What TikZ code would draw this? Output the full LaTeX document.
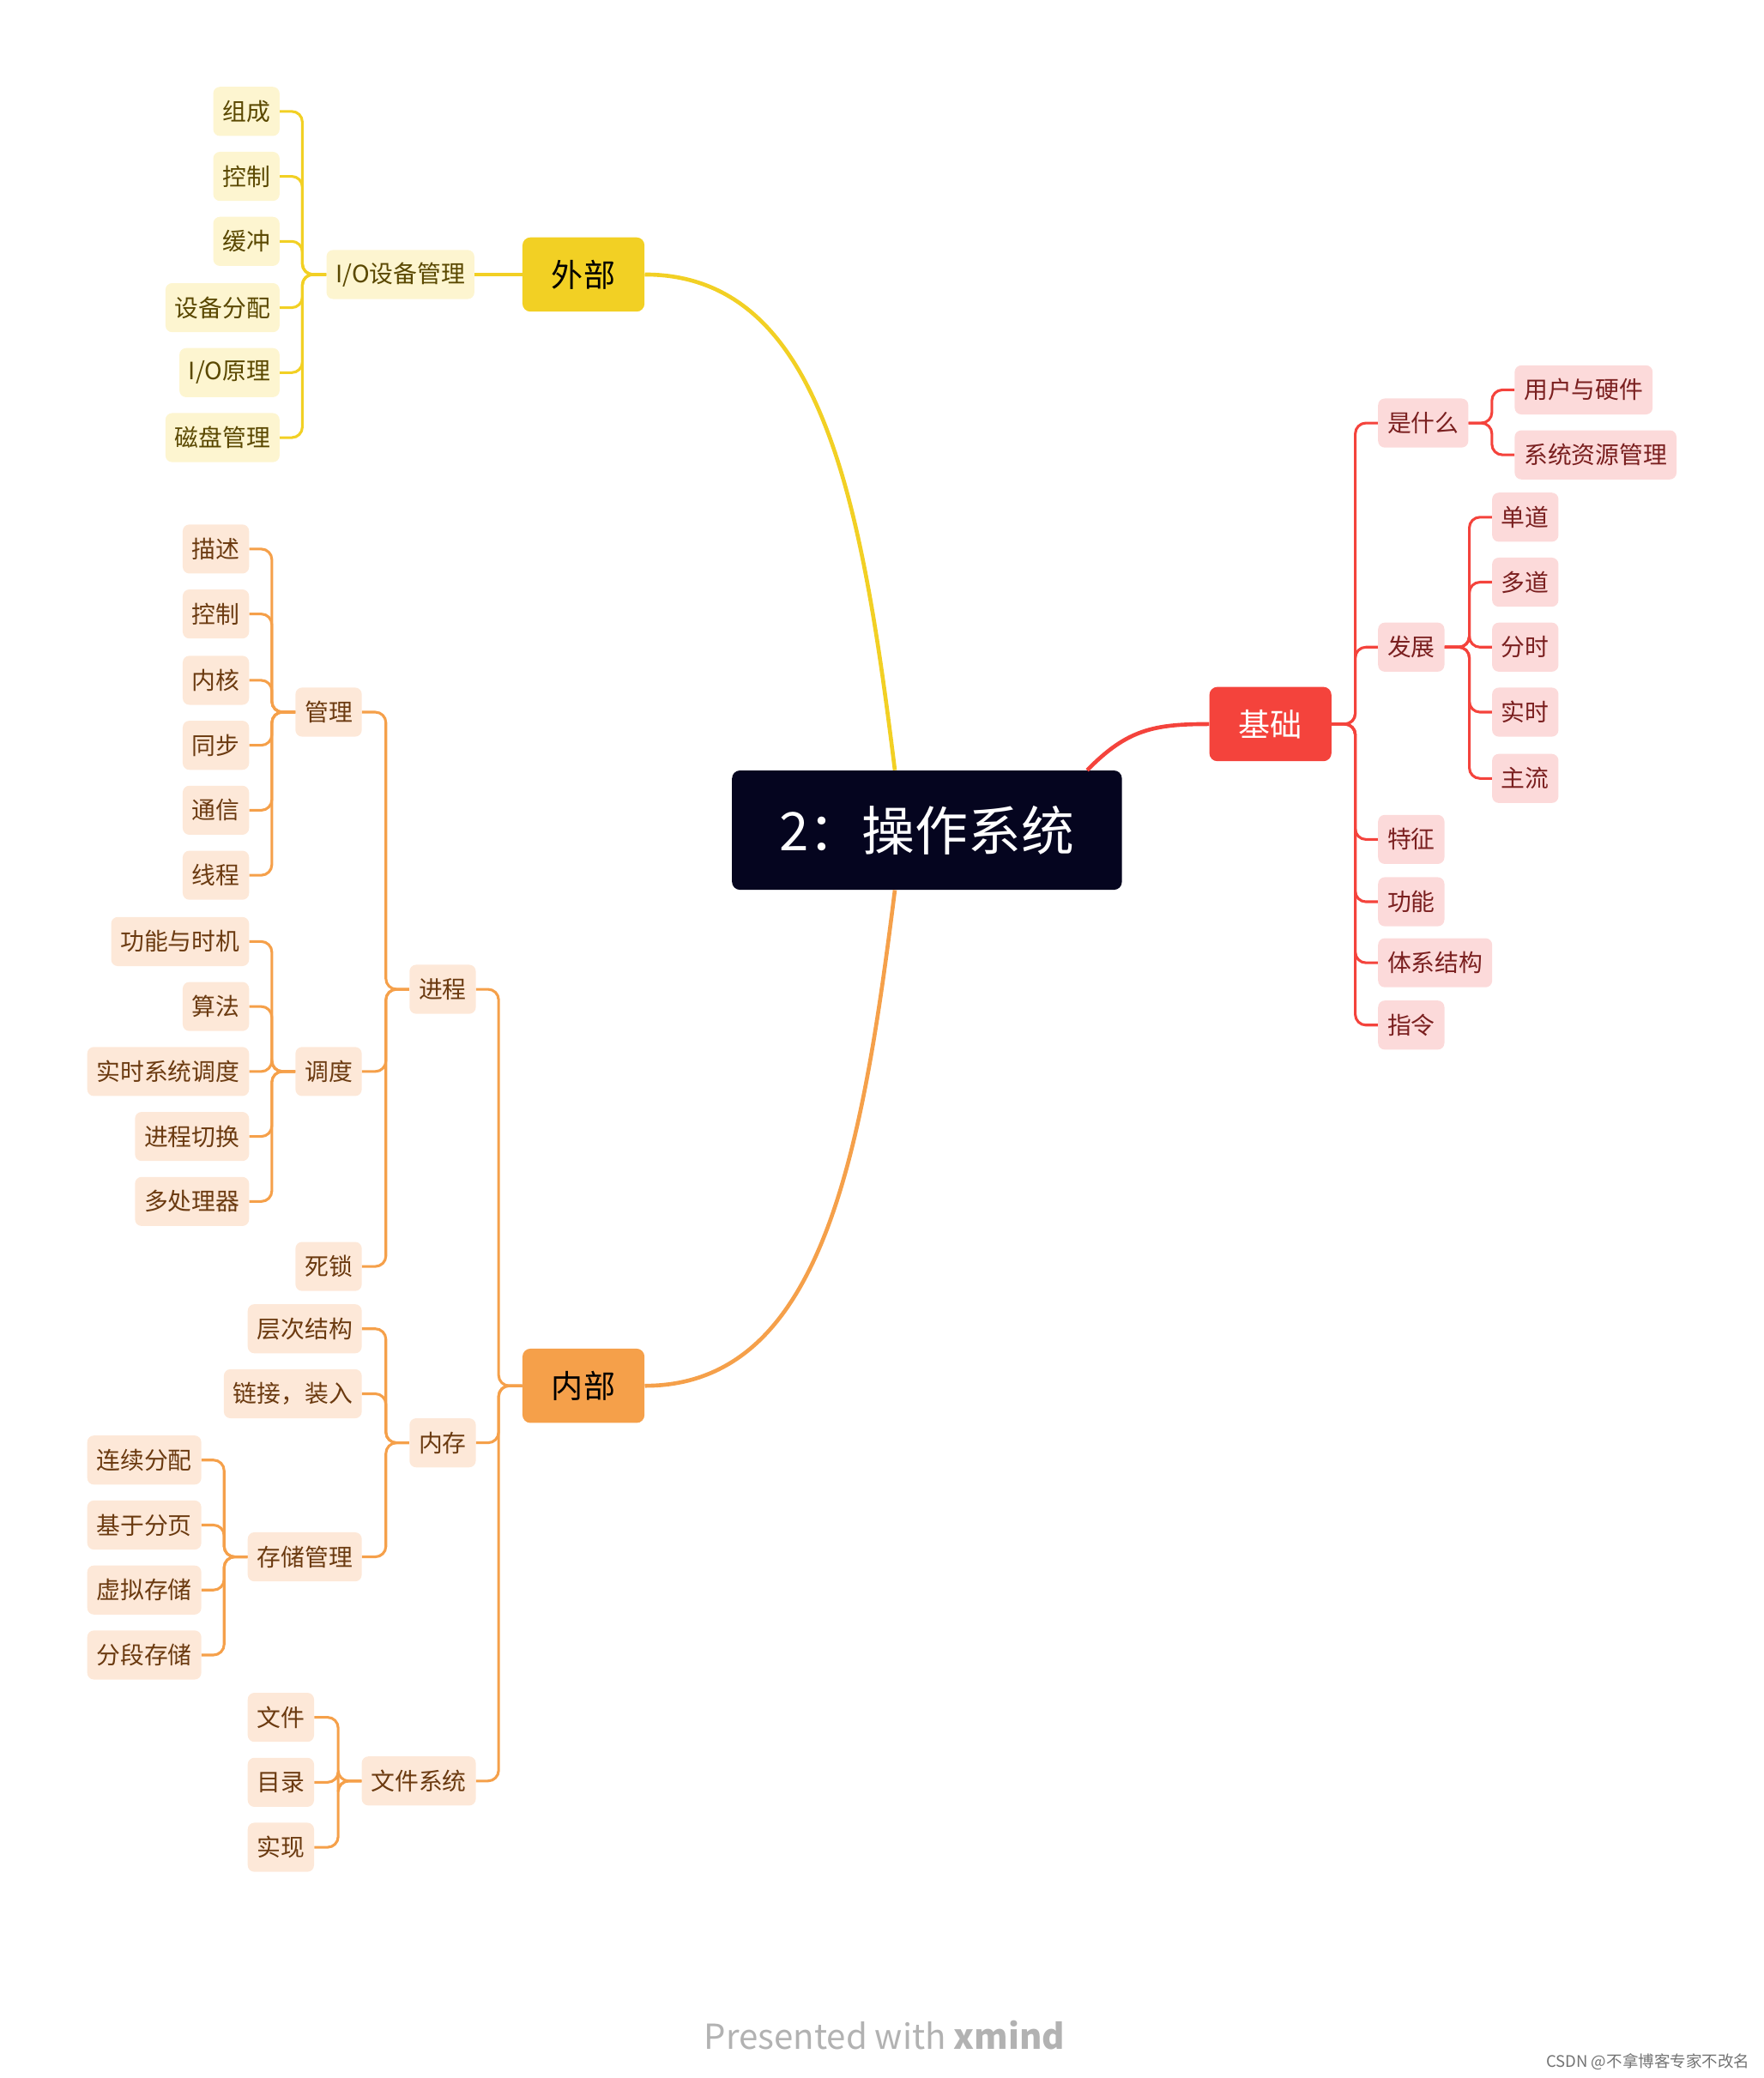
\documentclass[tikz,border=0pt]{standalone}
\usepackage{fontspec}
\setmainfont{Noto Sans CJK SC}
\usetikzlibrary{calc}
\definecolor{yl}{HTML}{F2D024}\definecolor{ybf}{HTML}{FDF5D0}\definecolor{ybt}{HTML}{5A4800}
\definecolor{og}{HTML}{F5A04A}\definecolor{obf}{HTML}{FDE8D8}\definecolor{obt}{HTML}{6B3A10}
\definecolor{rd}{HTML}{F4433C}\definecolor{rbf}{HTML}{FCDADA}\definecolor{rbt}{HTML}{7A1F1F}
\tikzset{
 sn/.style={rounded corners=5pt, font=\fontsize{18}{20}\selectfont, minimum height=37pt, inner xsep=7pt, inner ysep=0pt},
 ys/.style={sn, fill=ybf, text=ybt}, os/.style={sn, fill=obf, text=obt}, rs/.style={sn, fill=rbf, text=rbt},
 mn/.style={rounded corners=6pt, font=\fontsize{24}{28}\selectfont, minimum width=92pt, minimum height=56pt},
 ln/.style={line width=2pt, rounded corners=8pt},
 yln/.style={ln, draw=yl}, oln/.style={ln, draw=og}, rln/.style={ln, draw=rd}
}
\newcommand\lc[4]{\draw[#1] (#2.west) -- (#2.west -| #4) |- (#3.east);}
\newcommand\rc[4]{\draw[#1] (#2.east) -- (#2.east -| #4) |- (#3.west);}
\begin{document}
\begin{tikzpicture}[x=1pt,y=-1pt]
\useasboundingbox (0,0) rectangle (1330,1567);
% main
\node[fill={rgb,255:red,5;green,5;blue,31}, text=white, rounded corners=6pt, minimum width=294pt, minimum height=90pt, font=\fontsize{40}{44}\selectfont] (ct) at (699,626) {2：操作系统};
\node[mn, fill=yl, text=black] (wb) at (440,207) {外部};
\node[mn, fill=og, text=black] (nb) at (440,1045) {内部};
\node[mn, fill=rd, text=white] (jc) at (958,546) {基础};
\draw[yl, line width=3pt] ($(ct.north west)+(123,0)$) .. controls (650,380) and (620,207) .. (wb.east);
\draw[og, line width=3pt] ($(ct.south west)+(123,0)$) .. controls (650,870) and (620,1045) .. (nb.east);
\draw[rd, line width=3pt] ($(ct.north west)+(268,0)$) .. controls (850,550) and (870,546) .. (jc.west);
% yellow
\node[ys, anchor=west] (io) at (246,207) {I/O设备管理};
\draw[yln] (wb.west) -- (io.east);
\coordinate (by) at (228,0);
\foreach \n/\t/\y in {y1/组成/84, y2/控制/133, y3/缓冲/182, y4/设备分配/232, y5/{I/O原理}/281, y6/磁盘管理/330}{
 \node[ys, anchor=east] (\n) at (211,\y) {\t}; \lc{yln}{io}{\n}{by}}
% orange level 1
\coordinate (b0) at (376,0);
\node[os, anchor=east] (jcg) at (359,746) {进程};
\node[os, anchor=east] (nc) at (359,1088) {内存};
\node[os, anchor=east] (wj) at (359,1343) {文件系统};
\foreach \n in {jcg,nc,wj}{\lc{oln}{nb}{\n}{b0}}
\coordinate (b1) at (291,0);
\node[os, anchor=east] (gl) at (273,537) {管理};
\node[os, anchor=east] (dd) at (273,808) {调度};
\node[os, anchor=east] (ss) at (273,955) {死锁};
\foreach \n in {gl,dd,ss}{\lc{oln}{jcg}{\n}{b1}}
\coordinate (b2) at (205,0);
\foreach \n/\t/\y in {g1/描述/414, g2/控制/463, g3/内核/513, g4/同步/562, g5/通信/611, g6/线程/660}{
 \node[os, anchor=east] (\n) at (188,\y) {\t}; \lc{oln}{gl}{\n}{b2}}
\foreach \n/\t/\y in {d1/功能与时机/710, d2/算法/759, d3/实时系统调度/808, d4/进程切换/857, d5/多处理器/906}{
 \node[os, anchor=east] (\n) at (188,\y) {\t}; \lc{oln}{dd}{\n}{b2}}
\node[os, anchor=east] (cc) at (273,1002) {层次结构};
\node[os, anchor=east] (lj) at (273,1051) {链接，装入};
\node[os, anchor=east] (cg) at (273,1174) {存储管理};
\foreach \n in {cc,lj,cg}{\lc{oln}{nc}{\n}{b1}}
\coordinate (b3) at (169,0);
\foreach \n/\t/\y in {s1/连续分配/1101, s2/基于分页/1150, s3/虚拟存储/1199, s4/分段存储/1248}{
 \node[os, anchor=east] (\n) at (152,\y) {\t}; \lc{oln}{cg}{\n}{b3}}
\coordinate (b4) at (255,0);
\foreach \n/\t/\y in {f1/文件/1295, f2/目录/1344, f3/实现/1393}{
 \node[os, anchor=east] (\n) at (237,\y) {\t}; \lc{oln}{wj}{\n}{b4}}
% red
\coordinate (r0) at (1022,0);
\foreach \n/\t/\y in {sm/是什么/319, fz/发展/488, tz/特征/633, gn/功能/680, tx/体系结构/726, zl/指令/773}{
 \node[rs, anchor=west] (\n) at (1039,\y) {\t}; \rc{rln}{jc}{\n}{r0}}
\coordinate (r1) at (1125,0);
\foreach \n/\t/\y in {u1/用户与硬件/294, u2/系统资源管理/343}{
 \node[rs, anchor=west] (\n) at (1142,\y) {\t}; \rc{rln}{sm}{\n}{r1}}
\coordinate (r2) at (1108,0);
\foreach \n/\t/\y in {h1/单道/390, h2/多道/439, h3/分时/488, h4/实时/537, h5/主流/587}{
 \node[rs, anchor=west] (\n) at (1125,\y) {\t}; \rc{rln}{fz}{\n}{r2}}
% footer
\node[text=black!30, font=\fontsize{26}{30}\selectfont] (ft) at (667,1535) {Presented with \textbf{xmind}};
\node[text=black!55, font=\fontsize{12}{14}\selectfont, anchor=east] (cs) at (1323,1555) {CSDN @不拿博客专家不改名};
\end{tikzpicture}
\end{document}
